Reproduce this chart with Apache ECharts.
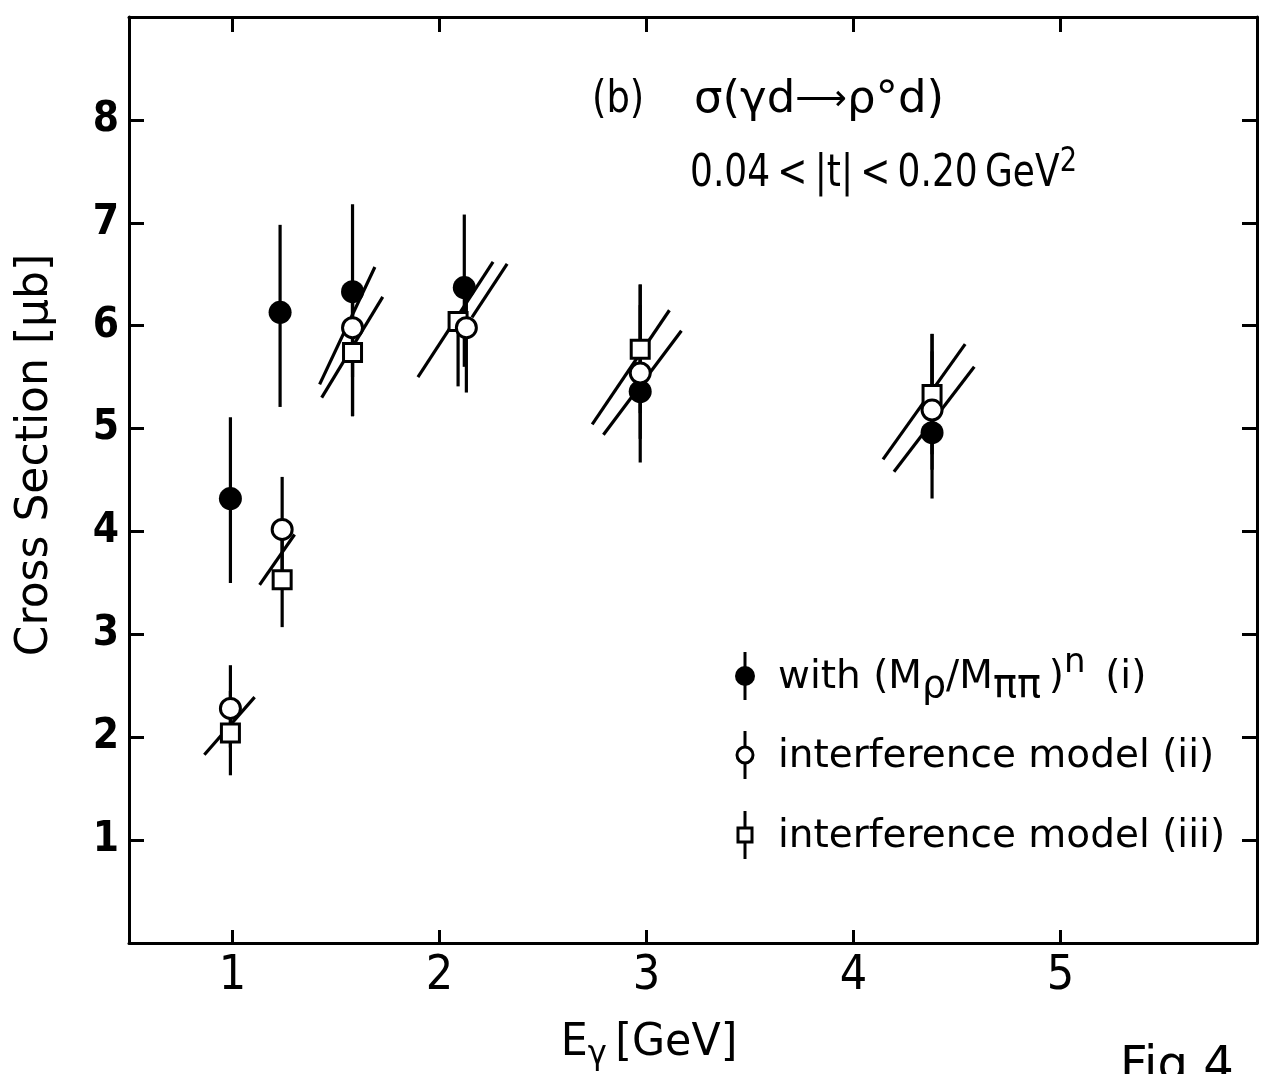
<!DOCTYPE html>
<html>
<head>
<meta charset="utf-8">
<script src="https://cdn.jsdelivr.net/npm/echarts@6/dist/echarts.min.js"></script>
<style>
  html, body { margin: 0; padding: 0; background: #fff; }
  #chart { width: 1268px; height: 1074px; }
</style>
</head>
<body>
<div id="chart"></div>
<script>
// Photon energy ticks and cross-section ticks
const energyTicks = [1, 2, 3, 4, 5];
const sigmaTicks = [1, 2, 3, 4, 5, 6, 7, 8];

// (i) with (M_rho / M_pipi)^n  — filled circles
const energyI = [0.99, 1.23, 1.58, 2.12, 2.97, 4.38];
const sigmaI  = [4.32, 6.13, 6.33, 6.37, 5.36, 4.96];
const lowI    = [3.50, 5.21, 5.50, 5.60, 4.67, 4.32];
const highI   = [5.11, 6.98, 7.18, 7.08, 6.40, 5.92];

// (ii) interference model — open circles
const energyII = [0.99, 1.24, 1.58, 2.13, 2.97, 4.38];
const sigmaII  = [2.28, 4.02, 5.98, 5.98, 5.54, 5.18];
const lowII    = [1.90, 3.60, 5.12, 5.35, 4.90, 4.60];
const highII   = [2.70, 4.53, 6.33, 6.37, 6.20, 5.75];

// (iii) interference model — open squares
const energyIII = [0.99, 1.24, 1.58, 2.09, 2.97, 4.38];
const sigmaIII  = [2.04, 3.53, 5.74, 6.04, 5.77, 5.33];
const lowIII    = [1.63, 3.07, 5.12, 5.41, 5.15, 4.75];
const highIII   = [2.45, 3.98, 6.35, 6.04, 6.40, 5.92];

// Slanted systematic-shift segments (start E, start sigma, end E, end sigma)
const bandStartE     = [0.864, 1.131, 1.421, 1.431, 1.896, 2.157, 2.738, 2.792, 4.143, 4.196];
const bandStartSigma = [1.83,  3.48,  5.43,  5.30,  5.50,  6.08,  5.04,  4.94,  4.70,  4.58];
const bandEndE       = [1.107, 1.300, 1.688, 1.726, 2.259, 2.327, 3.111, 3.169, 4.540, 4.584];
const bandEndSigma   = [2.39,  3.97,  6.57,  6.28,  6.62,  6.60,  6.15,  5.95,  5.82,  5.60];

const FONT_NAME = 'DejaVu Sans';
const FONT = '"DejaVu Sans", "Liberation Sans", sans-serif';
const NARROW = '"Liberation Sans Narrow", "DejaVu Sans Condensed", "DejaVu Sans", sans-serif';
const INK = '#000';

const chart = echarts.init(document.getElementById('chart'), null, { renderer: 'canvas' });

function barData(e, lo, hi) {
  return e.map((x, i) => [x, lo[i], hi[i]]);
}
function pointData(e, s) {
  return e.map((x, i) => [x, s[i]]);
}
const bandData = bandStartE.map((x, i) => [x, bandStartSigma[i], bandEndE[i], bandEndSigma[i]]);

function segment(a, b) {
  return {
    type: 'line',
    shape: { x1: a[0], y1: a[1], x2: b[0], y2: b[1] },
    style: { stroke: INK, lineWidth: 3.2, lineCap: 'butt' }
  };
}
function renderBar(params, api) {
  return segment(api.coord([api.value(0), api.value(1)]), api.coord([api.value(0), api.value(2)]));
}
function renderBand(params, api) {
  return segment(api.coord([api.value(0), api.value(1)]), api.coord([api.value(2), api.value(3)]));
}

const axisCommon = {
  type: 'value',
  splitLine: { show: false },
  axisLine: { show: true, onZero: false, lineStyle: { color: INK, width: 3 } },
  axisTick: { show: true, inside: true, length: 15, lineStyle: { color: INK, width: 3 } }
};

// Text with sub/superscripts: each part is [text, fontSize, baseline shift]
const measureCtx = document.createElement('canvas').getContext('2d');
function textWidth(str, size) {
  measureCtx.font = size + 'px "' + FONT_NAME + '"';
  return measureCtx.measureText(str).width;
}
function scriptText(x, baseline, parts, opts) {
  opts = opts || {};
  const sx = opts.scaleX || 1;
  const total = parts.reduce((w, p) => w + textWidth(p[0], p[1]) * sx, 0);
  let cx = opts.center ? x - total / 2 : x;
  return parts.map(p => {
    const el = {
      type: 'text', x: cx, y: baseline - 0.3 * p[1] + p[2], z: 11, scaleX: sx,
      style: { text: p[0], fontFamily: FONT, fontSize: p[1], fill: INK, align: 'left', verticalAlign: 'middle' }
    };
    cx += textWidth(p[0], p[1]) * sx;
    return el;
  });
}

const graphics = [];

// Legend drawn as graphic elements
const legendX = 745;
const legendRows = [676, 755, 835];
const legendParts = [
  [['with (M', 39, 0], ['ρ', 38, 9], ['/M', 39, 0], ['ππ', 40, 9], ['\u2009)', 39, 0], ['n', 34, -17], ['\u2002(i)', 39, 0]],
  [['interference model (ii)', 39, 0]],
  [['interference model (iii)', 39, 0]]
];
legendRows.forEach((y, i) => {
  graphics.push({
    type: 'line', shape: { x1: legendX, y1: y - 24, x2: legendX, y2: y + 24 },
    style: { stroke: INK, lineWidth: 3 }, z: 10
  });
  if (i === 0) {
    graphics.push({ type: 'circle', shape: { cx: legendX, cy: y, r: 10 }, style: { fill: INK }, z: 11 });
  } else if (i === 1) {
    graphics.push({ type: 'circle', shape: { cx: legendX, cy: y, r: 8 }, style: { fill: '#fff', stroke: INK, lineWidth: 3 }, z: 11 });
  } else {
    graphics.push({ type: 'rect', shape: { x: legendX - 7, y: y - 7, width: 14, height: 14 }, style: { fill: '#fff', stroke: INK, lineWidth: 3 }, z: 11 });
  }
  graphics.push(...scriptText(778, y + 14, legendParts[i]));
});

// Reaction and t-range annotation
graphics.push(...scriptText(592, 114, [['(b)', 45, 0]], { scaleX: 0.82 }));
graphics.push(...scriptText(694, 114, [['σ(γd', 45, 0], ['⟶', 36, -3], ['ρ°d)', 45, 0]]));
graphics.push(...scriptText(690, 188,
  [['0.04\u2009<\u2009|t|\u2009<\u20090.20\u2009GeV', 45, 0], ['2', 34, -16]], { scaleX: 0.8 }));

// Axis titles
graphics.push({
  type: 'text', x: 36, y: 455, rotation: Math.PI / 2, z: 11,
  style: {
    text: 'Cross Section [μb]', fontFamily: FONT, fontSize: 44, fill: INK,
    align: 'center', verticalAlign: 'middle'
  }
});
graphics.push(...scriptText(649, 1057, [['E', 45, 0], ['γ', 34, 8], ['\u2009[GeV]', 45, 0]], { scaleX: 0.95, center: true }));
graphics.push({
  type: 'text', x: 1120, y: 1044, z: 11,
  style: { text: 'Fig.4', fontFamily: FONT, fontSize: 48, fill: INK, align: 'left', verticalAlign: 'top' }
});

chart.setOption({
  animation: false,
  backgroundColor: '#fff',
  grid: { left: 129, right: 11, top: 17, bottom: 131, containLabel: false },
  xAxis: [
    Object.assign({}, axisCommon, {
      position: 'bottom', min: 0.5, max: 5.95,
      axisTick: Object.assign({}, axisCommon.axisTick, { customValues: energyTicks, length: 13 }),
      axisLabel: { customValues: energyTicks, margin: 10, color: INK, fontFamily: NARROW, fontSize: 48 }
    }),
    Object.assign({}, axisCommon, {
      position: 'top', min: 0.5, max: 5.95,
      axisTick: Object.assign({}, axisCommon.axisTick, { customValues: energyTicks }),
      axisLabel: { show: false }
    })
  ],
  yAxis: [
    Object.assign({}, axisCommon, {
      position: 'left', min: 0, max: 9,
      axisTick: Object.assign({}, axisCommon.axisTick, { customValues: sigmaTicks }),
      axisLabel: { customValues: sigmaTicks, margin: 10, color: INK, fontFamily: NARROW, fontSize: 42, fontWeight: 'bold' }
    }),
    Object.assign({}, axisCommon, {
      position: 'right', min: 0, max: 9,
      axisTick: Object.assign({}, axisCommon.axisTick, { customValues: sigmaTicks }),
      axisLabel: { show: false }
    })
  ],
  graphic: graphics,
  series: [
    {
      name: 'bands', type: 'custom', renderItem: renderBand, data: bandData,
      encode: { x: [0, 2], y: [1, 3] }, z: 1, silent: true
    },
    {
      name: 'bars (i)', type: 'custom', renderItem: renderBar, data: barData(energyI, lowI, highI),
      encode: { x: 0, y: [1, 2] }, z: 2, silent: true
    },
    {
      name: 'bars (ii)', type: 'custom', renderItem: renderBar, data: barData(energyII, lowII, highII),
      encode: { x: 0, y: [1, 2] }, z: 2, silent: true
    },
    {
      name: 'bars (iii)', type: 'custom', renderItem: renderBar, data: barData(energyIII, lowIII, highIII),
      encode: { x: 0, y: [1, 2] }, z: 2, silent: true
    },
    {
      name: 'interference model (iii)', type: 'scatter', data: pointData(energyIII, sigmaIII),
      symbol: 'rect', symbolSize: 18, z: 3, silent: true,
      itemStyle: { color: '#fff', borderColor: INK, borderWidth: 3, opacity: 1 }
    },
    {
      name: 'with (Mρ/Mππ)^n (i)', type: 'scatter', data: pointData(energyI, sigmaI),
      symbol: 'circle', symbolSize: 23, z: 4, silent: true,
      itemStyle: { color: INK, opacity: 1 }
    },
    {
      name: 'interference model (ii)', type: 'scatter', data: pointData(energyII, sigmaII),
      symbol: 'circle', symbolSize: 20, z: 5, silent: true,
      itemStyle: { color: '#fff', borderColor: INK, borderWidth: 3, opacity: 1 }
    }
  ]
});
</script>
</body>
</html>
